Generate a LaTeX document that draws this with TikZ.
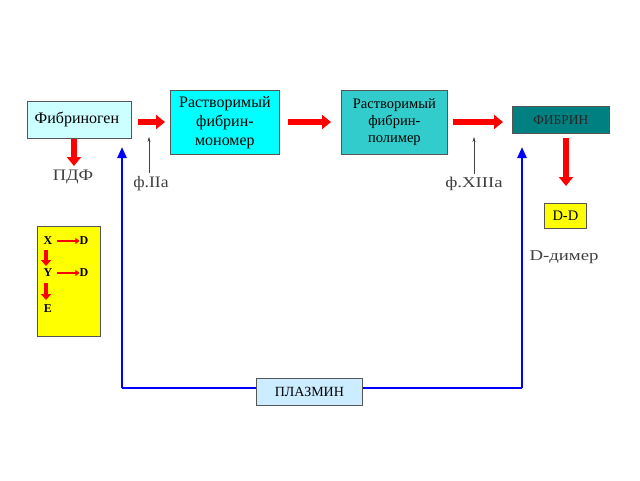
\documentclass[tikz,border=0pt]{standalone}
\usepackage{fontspec}
\setmainfont{Liberation Serif}
\usetikzlibrary{arrows.meta}
\definecolor{lcyan}{HTML}{CCFFFF}
\definecolor{brcyan}{HTML}{00FFFF}
\definecolor{tealbox}{HTML}{33CCCC}
\definecolor{darkteal}{HTML}{008080}
\definecolor{lblue}{HTML}{CCECFF}
\definecolor{bordergray}{HTML}{555555}
\definecolor{pureblue}{HTML}{0000FF}
\definecolor{purered}{HTML}{FF0000}
\definecolor{pureyellow}{HTML}{FFFF00}
\tikzset{
  box/.style={draw=bordergray, line width=0.8pt, inner sep=0pt, align=center, font=\fontsize{16}{19}\selectfont},
  redarrow/.style={draw=purered, line width=5.5pt, -{Triangle[length=9pt,width=14pt]}},
  thinarrow/.style={draw=black!75, line width=0.5pt, -{Stealth[length=5pt,width=3pt]}},
  bluearrow/.style={draw=pureblue, line width=2.6pt, -{Triangle[length=11pt,width=9pt]}},
  bluline/.style={draw=pureblue, line width=2.6pt},
  lbl/.style={font=\fontsize{16}{18}\selectfont, text=black!75},
  lblw/.style={font=\fontsize{15}{18}\selectfont, text=black!75},
  yl/.style={font=\bfseries\fontsize{12}{14}\selectfont, inner sep=0pt},
  smallred/.style={draw=purered, line width=2.2pt, -{Triangle[length=4pt,width=6pt]}},
  ydown/.style={draw=purered, line width=4pt, -{Triangle[length=6pt,width=10pt]}},
}
\begin{document}
\begin{tikzpicture}[x=1pt,y=-1pt]
\useasboundingbox (0,0) rectangle (640,480);
% boxes
\node[box, fill=lcyan, minimum width=104pt, minimum height=37pt, anchor=north west] (fgen) at (27,101) {\hspace*{-5pt}Фибриноген};
\node[box, fill=brcyan, minimum width=109pt, minimum height=64pt, anchor=north west] (mono) at (170,90) {Растворимый\\фибрин-\\мономер};
\node[box, fill=tealbox, minimum width=106pt, minimum height=64pt, anchor=north west, font=\fontsize{14.5}{17}\selectfont] (poly) at (341,90) {Растворимый\\фибрин-\\полимер};
\node[box, fill=darkteal, minimum width=97pt, minimum height=27pt, anchor=north west, font=\fontsize{13.5}{15}\selectfont, text=black!85] (fibrin) at (512,106) {ФИБРИН};
\node[box, fill=pureyellow, minimum width=42pt, minimum height=25pt, anchor=north west, font=\fontsize{14.5}{16}\selectfont] (dd) at (544,203) {D-D};
\node[box, fill=lblue, minimum width=106pt, minimum height=27pt, anchor=north west, font=\fontsize{14}{16}\selectfont] (plasmin) at (256,378) {ПЛАЗМИН};
\node[box, fill=pureyellow, minimum width=63pt, minimum height=110pt, anchor=north west] (ybox) at (37,226) {};
% labels
\node[lbl] (pdf) at (73,177) {\scalebox{1.15}[1]{ПДФ}};
\node[lbl] (f2a) at (151,184) {\scalebox{1.1}[1]{ф.IIa}};
\node[lblw] (f13a) at (474,184) {\scalebox{1.25}[1]{ф.XIIIa}};
\node[lblw] (ddim) at (564,257) {\scalebox{1.25}[1]{D-димер}};
% coordinates
\coordinate (a1s) at (138,122); \coordinate (a1e) at (165,122);
\coordinate (a2s) at (288,122); \coordinate (a2e) at (331,122);
\coordinate (a3s) at (453,122); \coordinate (a3e) at (503,122);
\coordinate (fgd) at (74,139); \coordinate (fge) at (74,166);
\coordinate (fbd) at (566,138); \coordinate (fbe) at (566,186);
% red arrows
\draw[redarrow] (a1s) -- (a1e);
\draw[redarrow] (a2s) -- (a2e);
\draw[redarrow] (a3s) -- (a3e);
\draw[redarrow] (fgd) -- (fge);
\draw[redarrow] (fbd) -- (fbe);
% thin arrows
\coordinate (t1) at (149,137);
\coordinate (t2) at (474,137);
\draw[thinarrow] (f2a.north -| t1) -- (t1);
\draw[thinarrow] (f13a.north -| t2) -- (t2);
% blue loop
\coordinate (bl) at (122,388); \coordinate (br) at (522,388);
\coordinate (blt) at (122,147); \coordinate (brt) at (522,147);
\draw[bluline] (plasmin.west |- bl) -- (bl);
\draw[bluline] (plasmin.east |- br) -- (br);
\draw[bluearrow] (bl) -- (blt);
\draw[bluearrow] (br) -- (brt);
% yellow box contents
\node[yl] (x) at (48,241) {X};
\node[yl] (d1) at (84,241) {D};
\node[yl] (y) at (48,273) {Y};
\node[yl] (d2) at (84,273) {D};
\node[yl] (e) at (48,309) {E};
\draw[smallred] (x.east) ++(4,0) -- (d1.west);
\draw[smallred] (y.east) ++(4,0) -- (d2.west);
\draw[ydown] (46,250) -- (46,266);
\draw[ydown] (46,283) -- (46,300);
\end{tikzpicture}
\end{document}
